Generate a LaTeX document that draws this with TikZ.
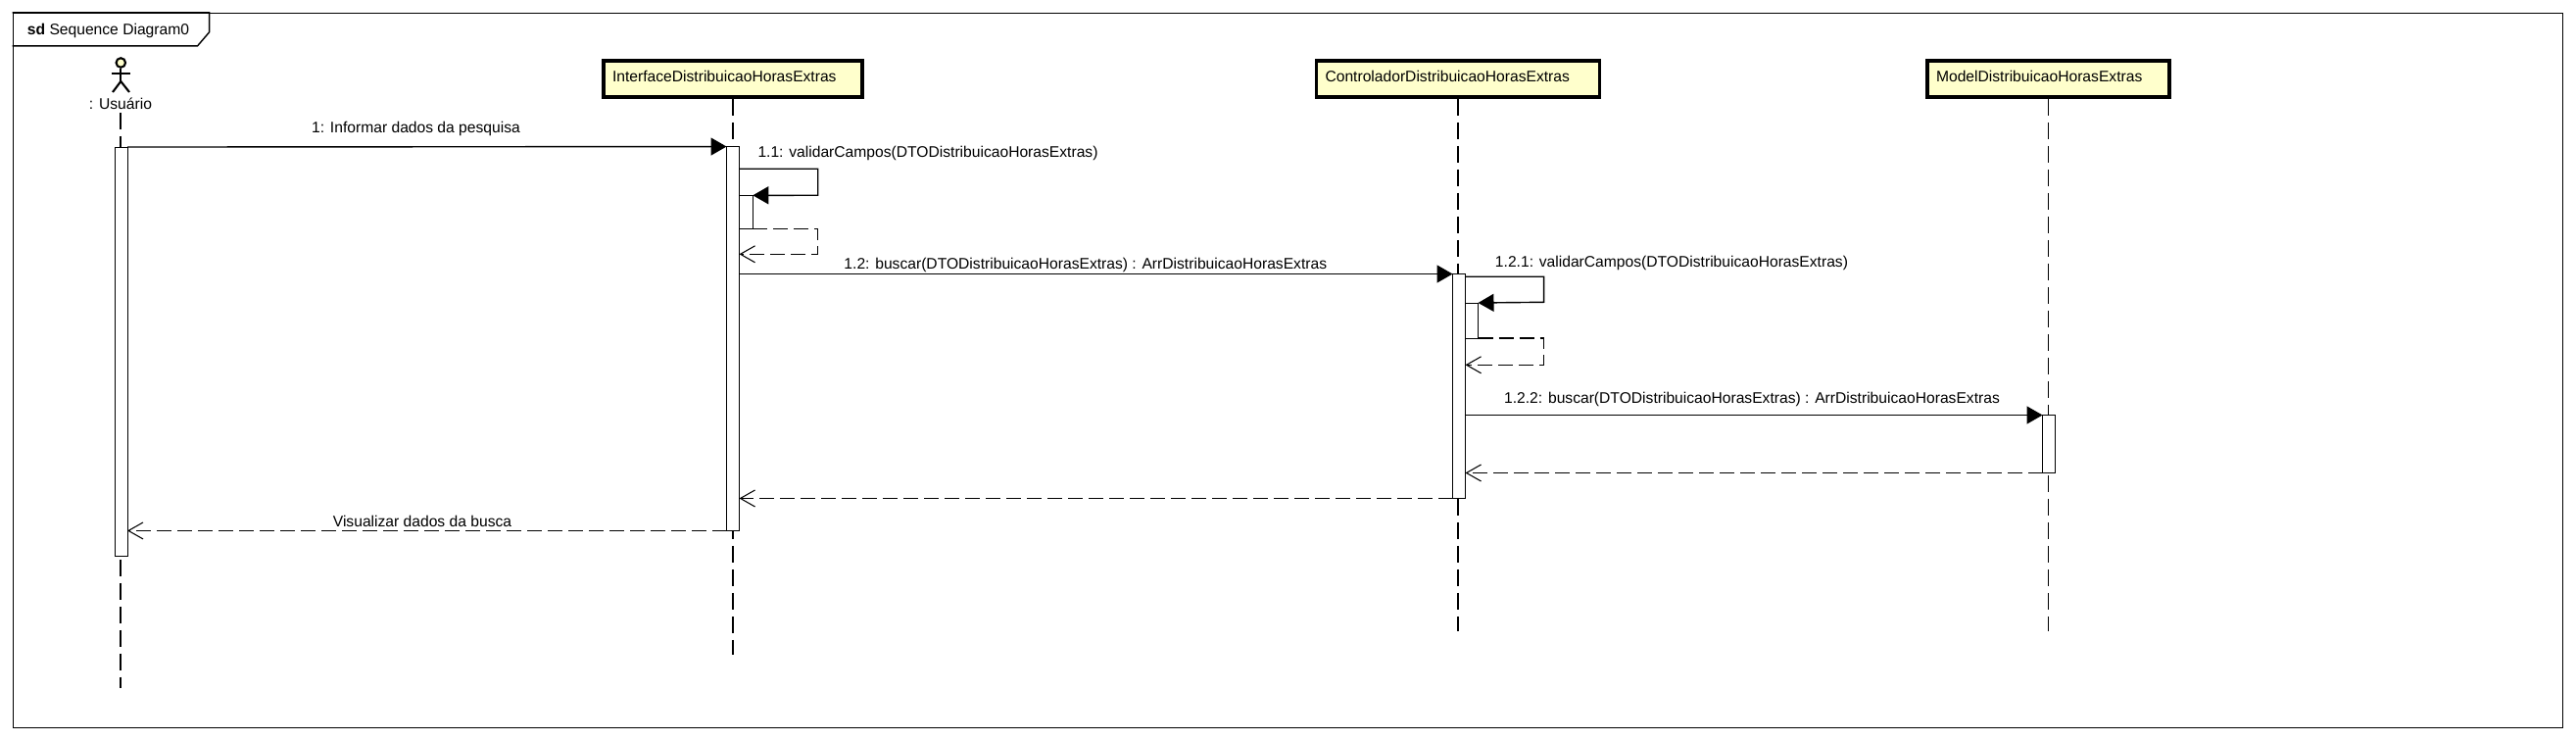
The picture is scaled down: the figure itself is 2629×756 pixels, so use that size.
\documentclass[tikz,border=0pt]{standalone}
\usepackage{fontspec}
\setmainfont{Liberation Sans}
\usetikzlibrary{arrows.meta}
\tikzset{
every picture/.style={
line width=0.6pt
}}
\definecolor{boxyellow}{HTML}{FFFFCC}

\begin{document}
\begin{tikzpicture}[x=0.02cm, y=-0.02cm, font=\fontsize{8.9}{11}\selectfont,
lifebox/.style = {rectangle, draw=black, line width=2.2pt, fill=boxyellow, inner xsep=0.18cm, inner ysep=0pt, minimum height=0.74cm, text width=#1, align=left, text height=0.3cm, text depth=0.17cm},
bar/.style = {rectangle, draw=black, fill=white, inner sep=0pt, outer sep=0pt, line width=0.55pt, minimum width=0.26cm, minimum height=#1},
label/.style = {inner sep=0pt},
figure/.style = {line width=1.2pt},
lifeline/.style = {line width=0.6pt, dash pattern=on 0.34cm off 0.14cm},
call/.style = {line width=0.8pt, -{Triangle[length=0.32cm, width=0.36cm]}},
reply/.style = {line width=0.6pt, dash pattern=on 0.3cm off 0.12cm, -{Straight Barb[length=0.3cm, width=0.34cm, line width=0.6pt]}}]

\useasboundingbox (0,0) rectangle (2629,756);

% frame and tab
\node [rectangle, draw=black, line width=0.8pt, inner sep=0pt, minimum width=52.06cm, minimum height=14.58cm] (frame) at (1314.5,378) {};
\draw [line width=0.8pt] (frame.north west) -- ++(201,0) -- ++(0,20) -- ++(-12,14) -- ++(-189,0);
\node [label] (title) at (110.5,31.5) {\textbf{sd} Sequence Diagram0};

% actor
\node [circle, draw=black, fill=boxyellow, figure, inner sep=0pt, minimum size=0.19cm] (userHead) at (123.3,64) {};
\coordinate (userHip) at (123.3,83);
\draw [figure] (userHead.south) -- (userHip);
\draw [figure] (114,75) -- (133,75);
\draw [figure] (115,94) -- (userHip) -- (132,94);
\node [label] (userName) at (123,105.5) {: Usuário};

% heads
\node [lifebox=4.92cm] (interface) at (748,80.5) {InterfaceDistribuicaoHorasExtras};
\node [lifebox=5.42cm] (control) at (1488,80.5) {ControladorDistribuicaoHorasExtras};
\node [lifebox=4.58cm] (model) at (2090.5,80.5) {ModelDistribuicaoHorasExtras};

% lifelines
\coordinate (userEnd) at (123,702);
\coordinate (interfaceEnd) at (748,668);
\coordinate (controlEnd) at (1488,644);
\coordinate (modelEnd) at (2090.5,644);
\draw [lifeline] (userName.south) ++(0,3) -- (userEnd);
\draw [lifeline] (interface.south) -- (interfaceEnd);
\draw [lifeline] (control.south) -- (controlEnd);
\draw [lifeline] (model.south) -- (modelEnd);

% activations
\node [bar=8.36cm] (userBar) at (123.5,359) {};
\node [bar=7.84cm] (interfaceBar) at (748,345.5) {};
\node [bar=4.58cm] (controlBar) at (1489,394) {};
\node [bar=1.18cm] (modelBar) at (2091,453) {};
\node [bar=0.68cm, minimum width=0.28cm] (selfBar) at (761.3,216.3) {};
\node [bar=0.72cm, minimum width=0.26cm] (innerBar) at (1502,327) {};

% messages
\draw [call] (userBar.north east) -- (interfaceBar.north west);
\node [label] (msgOne) at (424.5,131) {1: Informar dados da pesquisa};

\coordinate (selfStart) at (754.6,172.3);
\coordinate (selfTurn) at (834.7,199.3);
\coordinate (selfBack) at (834.7,259.3);
\draw [call] (selfStart) -| (selfTurn) -- (selfBar.north east);
\node [label] (msgSelf) at (947,156.5) {1.1: validarCampos(DTODistribuicaoHorasExtras)};
\draw [reply] (selfBar.south east) -| (selfBack) -- (selfBack -| interfaceBar.east);

\draw [call] (interfaceBar.east |- controlBar.north) -- (controlBar.north west);
\node [label] (msgFind) at (1107.8,270.5) {1.2: buscar(DTODistribuicaoHorasExtras) : ArrDistribuicaoHorasExtras};

\coordinate (innerStart) at (1495.2,282.3);
\coordinate (innerTurn) at (1575.6,308.3);
\coordinate (innerBack) at (1575.6,372.3);
\draw [call] (innerStart) -| (innerTurn) -- (innerBar.north east);
\node [label] (msgInner) at (1706,268.5) {1.2.1: validarCampos(DTODistribuicaoHorasExtras)};
\draw [reply] (innerBar.south east) -| (innerBack) -- (innerBack -| controlBar.east);

\draw [call] (controlBar.east |- modelBar.north) -- (modelBar.north west);
\node [label] (msgModel) at (1788,407) {1.2.2: buscar(DTODistribuicaoHorasExtras) : ArrDistribuicaoHorasExtras};

\draw [reply] (modelBar.south west) -- (controlBar.east |- modelBar.south);
\draw [reply] (controlBar.south west) -- (interfaceBar.east |- controlBar.south);
\draw [reply] (interfaceBar.south west) -- (userBar.east |- interfaceBar.south);
\node [label] (msgShow) at (431,531.5) {Visualizar dados da busca};

\end{tikzpicture}
\end{document}
